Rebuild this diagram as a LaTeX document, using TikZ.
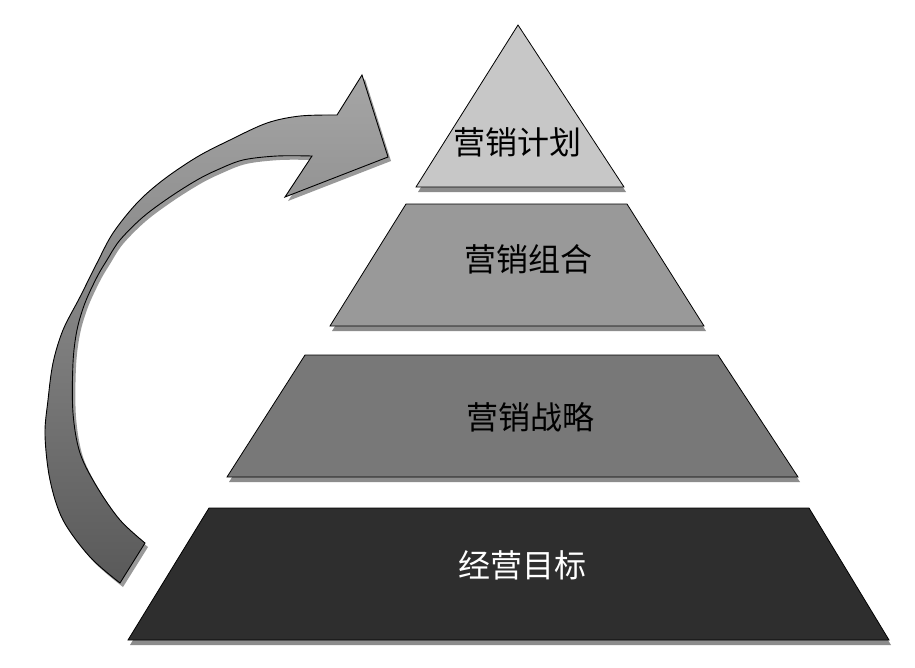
\documentclass[tikz,border=0pt]{standalone}
\usepackage{fontspec}
\newfontfamily\cjk{Noto Sans CJK SC}
\begin{document}
\begin{tikzpicture}[x=1pt,y=-1pt,
  shadowed/.style={preaction={fill=black!45, transform canvas={shift={(2,5)}}}},
  layer/.style={draw=black, line width=0.8pt, shadowed},
  lbl/.style={font=\cjk\fontsize{32}{36}\selectfont, inner sep=0pt, text=black},
  arrowbody/.style={draw=black, line width=0.9pt, top color=black!35, bottom color=black!65,
    preaction={fill=black!40, transform canvas={shift={(3,4)}}}}]
\useasboundingbox (0,0) rectangle (915,667);
\fill[white] (0,0) rectangle (915,667);

% curved arrow (ribbon)
\path[arrowbody]
  plot[smooth, tension=0.55] coordinates {(120,583) (90,557) (63,520) (50,480) (45,435) (48,400) (53,363) (63,330) (80,297) (97,263) (113,233) (137,203) (163,180) (197,157) (230,140) (267,123) (300,116) (337,115)}
  -- (362,75) -- (388,157) -- (285,197) -- (312,156)
  -- plot[smooth, tension=0.55] coordinates {(312,156) (277,156) (243,160) (217,170) (197,180) (170,197) (143,217) (120,240) (107,260) (97,277) (85,303) (77,330) (73,363) (73,413) (80,453) (97,487) (120,520) (145,543)}
  -- cycle;

% pyramid layers
\path[layer, fill=black!22] (518,25) -- (624,187) -- (416,187) -- cycle;
\path[layer, fill=black!40] (406,204) -- (627,204) -- (704,326) -- (330,326) -- cycle;
\path[layer, fill=black!53] (305,355) -- (718,355) -- (798,477) -- (227,477) -- cycle;
\path[layer, fill=black!82] (209,508) -- (809,508) -- (889,640) -- (128,640) -- cycle;

% labels
\node[lbl] (plan) at (517,142) {营销计划};
\node[lbl] (mix) at (528,259) {营销组合};
\node[lbl] (strat) at (530,417) {营销战略};
\node[lbl, text=white] (goal) at (522,565) {经营目标};
\end{tikzpicture}
\end{document}
